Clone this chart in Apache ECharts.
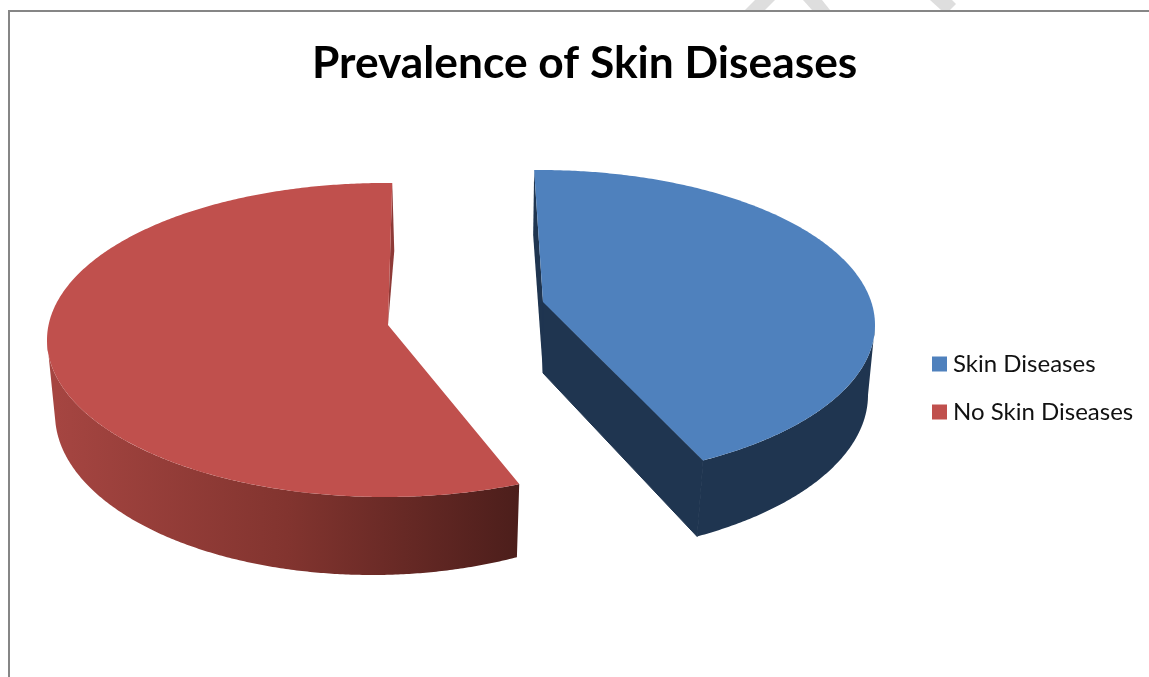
<!DOCTYPE html>
<html>
<head>
<meta charset="utf-8">
<style>html,body{margin:0;padding:0;background:#fff;overflow:hidden}#c{width:1149px;height:677px}</style>
<script src="https://cdn.jsdelivr.net/npm/echarts@6/dist/echarts.min.js"></script>
</head>
<body>
<div id="c"></div>
<script>
var titleText = 'Prevalence of Skin Diseases';
var categories = ['Skin Diseases', 'No Skin Diseases'];
var values = [42.6, 57.4];

var colors = ['#4F81BD', '#C0504D'];
// Drawing geometry of each exploded slice (foreshortened disc with thickness)
var slices = [
  {start: -1, cx: 540, cy: 325, rx: 335, ry: 155, ax: 543, ay: 302,
   bcx: 535, bcy: 395, brx: 333, bry: 162, shift: 0, sweepStop: 90,
   depthA: 71, backDx: -1, backDy: 65, side: '#1F3550', inner: '#1F3550'},
  {start: 156.6, cx: 385, cy: 340, rx: 338, ry: 157, ax: 388, ay: 325,
   bcx: 372, bcy: 414, brx: 317, bry: 161, shift: -3.8, sweepStop: 270,
   depthA: 0, backDx: 2, backDy: 68, side: null, inner: '#8E3A37'}
];
var sweepTotal = 356.5; // degrees of the foreshortened ring used by the slices

function pt(cx, cy, rx, ry, t) {
  var a = t * Math.PI / 180;
  return [cx + rx * Math.sin(a), cy - ry * Math.cos(a)];
}
function arcPts(cx, cy, rx, ry, t0, t1) {
  var pts = [], n = Math.ceil(Math.abs(t1 - t0) * 2);
  for (var i = 0; i <= n; i++) pts.push(pt(cx, cy, rx, ry, t0 + (t1 - t0) * i / n));
  return pts;
}
var total = values.reduce(function (a, b) { return a + b; }, 0);

function renderSlice(idx) {
  return function (params, api) {
    var s = slices[idx];
    var sweep = api.value(0) / total * sweepTotal;
    var t0 = s.start, t1 = s.start + sweep;
    var children = [];
    var apex = [s.ax, s.ay];
    var sideFill = s.side || new echarts.graphic.LinearGradient(57, 0, 519, 0, [
      {offset: 0, color: '#A54541'},
      {offset: 0.5, color: '#82342F'},
      {offset: 1, color: '#4C1E1B'}
    ], true);
    var innerStart = idx === 0 ? t0 : t1;
    var back = pt(s.cx, s.cy, s.rx, s.ry, innerStart);
    // inner face at the back of the slice
    var innerPts = [back, [back[0] + s.backDx, back[1] + s.backDy]];
    if (s.depthA) innerPts.push([s.ax, s.ay + s.depthA]);
    innerPts.push(apex);
    children.push({type: 'polygon', shape: {points: innerPts}, style: {fill: s.inner}});
    // front cut face (blue slice) seen from the viewer
    if (idx === 0) {
      var e = pt(s.cx, s.cy, s.rx, s.ry, t1);
      var eb = pt(s.bcx, s.bcy, s.brx, s.bry, t1 + s.shift);
      children.push({type: 'polygon', shape: {points: [apex, e, eb, [s.ax, s.ay + s.depthA]]},
        style: {fill: s.side, stroke: s.side, lineWidth: 1}});
    }
    // outer rim
    var rimTopFrom = idx === 0 ? s.sweepStop : t0;
    var rimTopTo = idx === 0 ? t1 : s.sweepStop;
    var rim = arcPts(s.cx, s.cy, s.rx, s.ry, rimTopFrom, rimTopTo)
      .concat(arcPts(s.bcx, s.bcy, s.brx, s.bry, rimTopTo + s.shift, rimTopFrom + s.shift));
    children.push({type: 'polygon', shape: {points: rim}, style: {fill: sideFill}});
    // top face
    var top = [apex].concat(arcPts(s.cx, s.cy, s.rx, s.ry, t0, t1));
    children.push({type: 'polygon', shape: {points: top}, style: {fill: colors[idx]}});
    return {type: 'group', children: children};
  };
}

var chart = echarts.init(document.getElementById('c'), null, {renderer: 'canvas'});
chart.setOption({
  animation: false,
  backgroundColor: '#ffffff',
  title: {
    text: titleText, left: 307, top: 37,
    textStyle: {fontFamily: 'Lato', fontWeight: 'bold', fontSize: 44.3, color: '#000000'}
  },
  legend: {
    orient: 'vertical', left: 927, top: 347, itemWidth: 15, itemHeight: 15, itemGap: 24,
    icon: 'rect',
    textStyle: {fontFamily: 'Lato', fontSize: 24, color: '#111111', padding: [0, 0, 0, 1]},
    data: categories.map(function (c, i) { return {name: c, itemStyle: {color: colors[i]}}; })
  },
  graphic: [
    {type: 'polygon', z: 0, shape: {points: [[755,0],[775,0],[765,10],[745,10]]}, style: {fill: '#DEDEDE'}},
    {type: 'polygon', z: 0, shape: {points: [[803,0],[822,0],[830,10],[812,10]]}, style: {fill: '#DEDEDE'}},
    {type: 'polygon', z: 0, shape: {points: [[930,0],[952,0],[956,4],[950,10],[941,10]]}, style: {fill: '#DEDEDE'}},
    {type: 'line', z: 1, shape: {x1: 8, y1: 11, x2: 1149, y2: 11}, style: {stroke: '#868686', lineWidth: 2}},
    {type: 'line', z: 1, shape: {x1: 9, y1: 10, x2: 9, y2: 677}, style: {stroke: '#868686', lineWidth: 2}}
  ],
  series: categories.map(function (c, i) {
    return {
      type: 'custom', name: c, coordinateSystem: 'none', silent: true,
      itemStyle: {color: colors[i]},
      renderItem: renderSlice(i),
      data: [[values[i]]]
    };
  })
});
</script>
</body>
</html>
